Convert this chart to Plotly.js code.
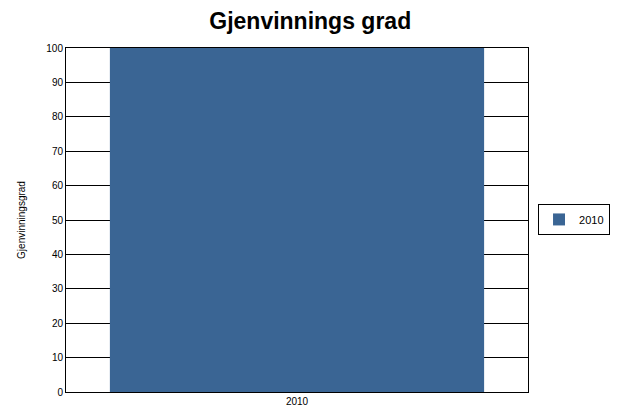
<!DOCTYPE html>
<html>
<head>
<meta charset="utf-8">
<script src="https://cdn.plot.ly/plotly-3.0.1.min.js"></script>
<style>html,body{margin:0;padding:0;background:#fff;}#chart{width:618px;height:412px;}</style>
</head>
<body>
<div id="chart"></div>
<script>
var categories = ["2010"];
var seriesName = "2010";
var values = [100];
var yTicks = [0,10,20,30,40,50,60,70,80,90,100];

var data = [{
  type: "bar",
  x: categories,
  y: values,
  name: seriesName,
  marker: {color: "#3A6594"},
  showlegend: true
}];

var layout = {
  width: 618, height: 412,
  margin: {l: 66, r: 90, t: 48, b: 20},
  paper_bgcolor: "#ffffff",
  plot_bgcolor: "#ffffff",
  font: {family: "Liberation Sans, Arial, sans-serif", color: "#000", size: 10},
  title: {text: "<b>Gjenvinnings grad</b>", x: 0.502, xanchor: "center", y: 0.95, yanchor: "middle",
          font: {size: 23, family: "Liberation Sans, Arial, sans-serif", color: "#000"}},
  bargap: 0.19,
  xaxis: {
    type: "category",
    range: [-0.5, 0.5],
    showline: true, linecolor: "#000", linewidth: 1, mirror: true,
    showgrid: false, ticks: "", tickfont: {size: 10}
  },
  yaxis: {
    range: [0, 100],
    tickvals: yTicks,
    showline: true, linecolor: "#000", linewidth: 1, mirror: true,
    showgrid: true, gridcolor: "#000", gridwidth: 1,
    ticks: "", tickfont: {size: 10}, zeroline: false,
    title: {text: "Gjenvinningsgrad", font: {size: 10}, standoff: 18}
  },
  legend: {
    xref: "container", yref: "container",
    x: 0.8706, xanchor: "left", y: 0.505, yanchor: "top",
    bordercolor: "#000", borderwidth: 1, bgcolor: "#fff",
    entrywidth: 36,
    font: {size: 11}
  }
};

Plotly.newPlot("chart", data, layout, {displayModeBar: false, staticPlot: true});
</script>
</body>
</html>
